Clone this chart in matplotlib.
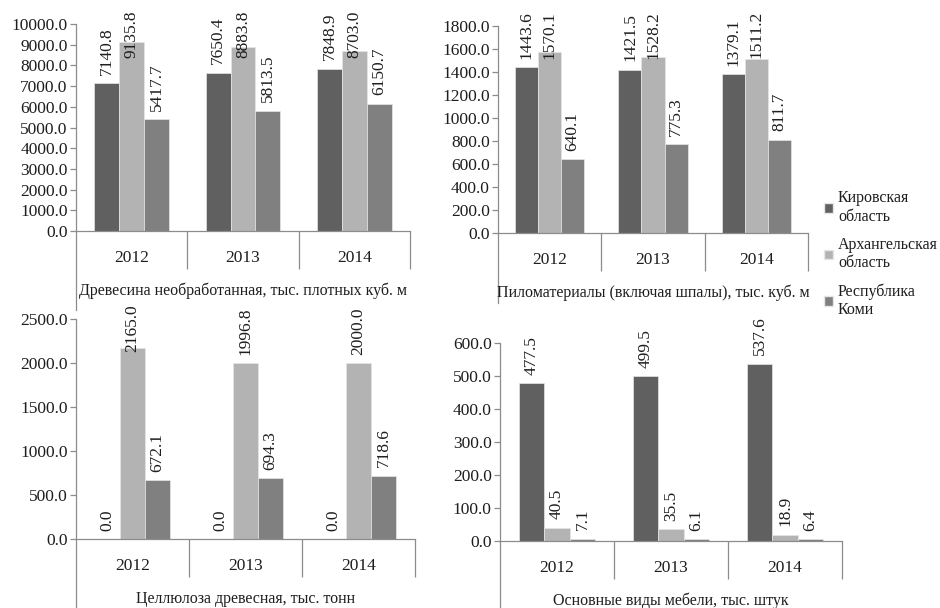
import numpy as np
import matplotlib
matplotlib.use("Agg")
import matplotlib.pyplot as plt
from matplotlib.patches import Patch

plt.rcParams["font.family"] = ["Liberation Serif", "DejaVu Serif"]
plt.rcParams["text.color"] = "#1e1e1e"
plt.rcParams["ytick.labelcolor"] = "#1e1e1e"
plt.rcParams["xtick.labelcolor"] = "#1e1e1e"

years = ["2012", "2013", "2014"]
series_names = ["Кировская\nобласть", "Архангельская\nобласть", "Республика\nКоми"]
colors = ["#606060", "#b3b3b3", "#808080"]

wood_raw = [[7140.8, 7650.4, 7848.9], [9135.8, 8883.8, 8703.0], [5417.7, 5813.5, 6150.7]]
lumber = [[1443.6, 1421.5, 1379.1], [1570.1, 1528.2, 1511.2], [640.1, 775.3, 811.7]]
pulp = [[0.0, 0.0, 0.0], [2165.0, 1996.8, 2000.0], [672.1, 694.3, 718.6]]
furniture = [[477.5, 499.5, 537.6], [40.5, 35.5, 18.9], [7.1, 6.1, 6.4]]

titles = [
    "Древесина необработанная, тыс. плотных куб. м",
    "Пиломатериалы (включая шпалы), тыс. куб. м",
    "Целлюлоза древесная, тыс. тонн",
    "Основные виды мебели, тыс. штук",
]
yticks = [
    np.arange(0, 10001, 1000),
    np.arange(0, 1801, 200),
    np.arange(0, 2501, 500),
    np.arange(0, 601, 100),
]

W, H = 940, 608
# pixel boxes: left, right, top (max tick), bottom (zero line), axis extension below zero,
# highest pixel row a data label may reach
boxes = [
    (76, 410, 24, 231, 79, 11),
    (498, 808, 26, 233, 70, 11),
    (76, 415, 319, 539, 69, 304),
    (500, 842, 343, 541, 67, 304),
]

fig = plt.figure(figsize=(W / 100, H / 100), dpi=100)
axis_col = "#8c8c8c"
bw = 0.223
fs = 12.5
lab_off = 6.0  # points above bar top

labels = []
for data, title, yt, (l, r, t, b, ext, lim) in zip([wood_raw, lumber, pulp, furniture], titles, yticks, boxes):
    ax = fig.add_axes([l / W, (H - b) / H, (r - l) / W, (b - t) / H])
    x = np.arange(len(years))
    for i, vals in enumerate(data):
        pos = x + (i - 1) * bw
        ax.bar(pos, vals, width=bw, color=colors[i], edgecolor="#e6e6e6", linewidth=0.5)
        for xb, v in zip(pos, vals):
            a = ax.annotate(f"{v:.1f}", (xb, v), xytext=(0, lab_off), textcoords="offset points",
                            rotation=90, ha="center", va="bottom", fontsize=fs)
            labels.append((a, lim))
    ax.set_xlim(-0.5, 2.5)
    ax.set_ylim(yt[0], yt[-1])
    ax.set_yticks(yt)
    ax.set_yticklabels([f"{v:.1f}" for v in yt], fontsize=fs)
    ax.set_xticks(x)
    ax.set_xticklabels(years, fontsize=fs)
    ax.set_xticks([0.5, 1.5, 2.5], minor=True)
    h_sep = (b - t)
    ax.tick_params(axis="x", which="major", length=0, pad=14)
    ax.tick_params(axis="x", which="minor", length=27, color=axis_col, width=0.9, direction="out")
    ax.tick_params(axis="y", length=4, color=axis_col, width=0.9, pad=2)
    for s in ["top", "right"]:
        ax.spines[s].set_visible(False)
    for s in ["left", "bottom"]:
        ax.spines[s].set_color(axis_col)
        ax.spines[s].set_linewidth(0.9)
    ax.plot([0, 0], [0, -ext / h_sep], transform=ax.transAxes, color=axis_col,
            lw=0.9, clip_on=False)
    ax.text(0.5, -60 / h_sep, title, transform=ax.transAxes, ha="center", va="center",
            fontsize=11.5)

handles = [Patch(facecolor=c, edgecolor="#e6e6e6") for c in colors]
fig.legend(handles, series_names, loc="upper left", bbox_to_anchor=(818 / W, 1 - 184 / H),
           frameon=False, fontsize=11.5, handlelength=0.55, handleheight=0.55, handletextpad=0.3,
           labelspacing=0.75, borderaxespad=0)

# keep labels inside the chart area, like the spreadsheet does (they slide onto the bar)
fig.canvas.draw()
rend = fig.canvas.get_renderer()
for a, lim in labels:
    bb = a.get_window_extent(rend)
    top_allowed = H - lim
    if bb.y1 > top_allowed:
        shift = (bb.y1 - top_allowed) * 72 / 100
        a.set_position((0, lab_off - shift))

fig.savefig("out.png", dpi=100)
